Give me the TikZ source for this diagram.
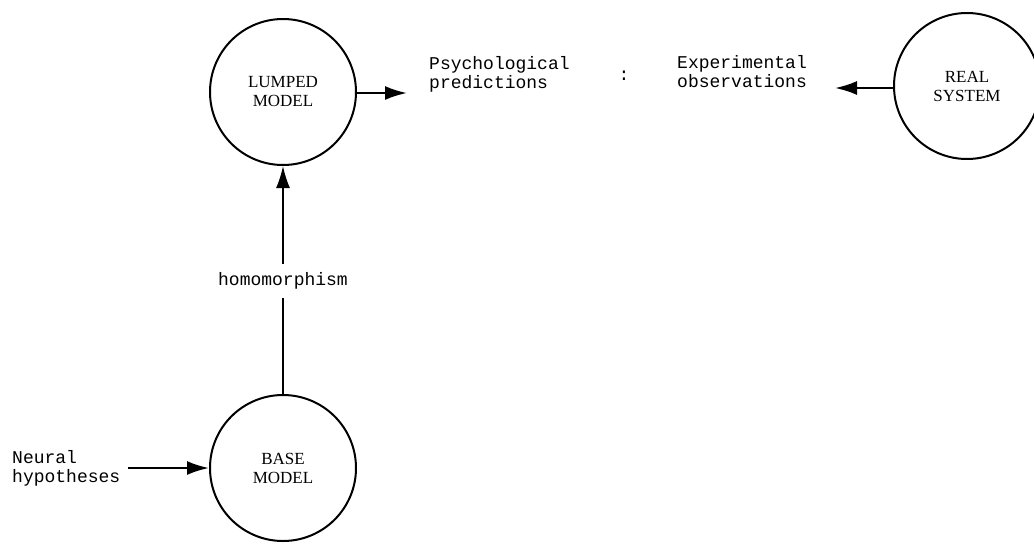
\documentclass[tikz,border=0pt]{standalone}
\usepackage{fontspec}
\setmainfont{Liberation Serif}
\newfontfamily\typefont{Liberation Mono}
\usetikzlibrary{arrows.meta}
\begin{document}
\begin{tikzpicture}[x=1pt,y=-1pt,
  model/.style={draw,circle,line width=2pt,minimum size=146pt,inner sep=0pt,
    align=center,font=\fontsize{17}{19}\selectfont},
  label/.style={align=left,font=\typefont\fontsize{18}{19}\selectfont,inner sep=0pt},
  tip/.style={-{Latex[length=22pt,width=14pt]}},
  arr/.style={line width=2.2pt,tip},
  link/.style={line width=1.5pt}]
\useasboundingbox (0,0) rectangle (1034,547);

% the three models
\node[model] (lumped) at (283,92) {LUMPED\\MODEL};
\node[model] (base) at (283,468) {BASE\\MODEL};
\node[model] (real) at (967,86) {REAL\\SYSTEM};

% outputs and inputs
\node[label,anchor=west] (psych) at (429,74) {Psychological\\predictions};
\node[label] (colon) at (624,76) {:};
\node[label,anchor=west] (exper) at (677,72) {Experimental\\observations};
\node[label,anchor=west] (neural) at (12,468) {Neural\\hypotheses};
\node[label,fill=white,inner ysep=8pt] (hom) at (283,281) {homomorphism};

% connectors
\coordinate (pend) at (407,93);
\coordinate (oend) at (835,88);
\path (neural.east) ++(8pt,0) coordinate (nstart);
\draw[arr] (lumped.east |- pend) -- (pend);
\draw[arr] (real.west |- oend) -- (oend);
\draw[arr] (nstart) -- (base.west);
\draw[link] (base.north) -- (hom.south);
\draw[link,tip] (hom.north) -- (lumped.south);
\end{tikzpicture}
\end{document}
